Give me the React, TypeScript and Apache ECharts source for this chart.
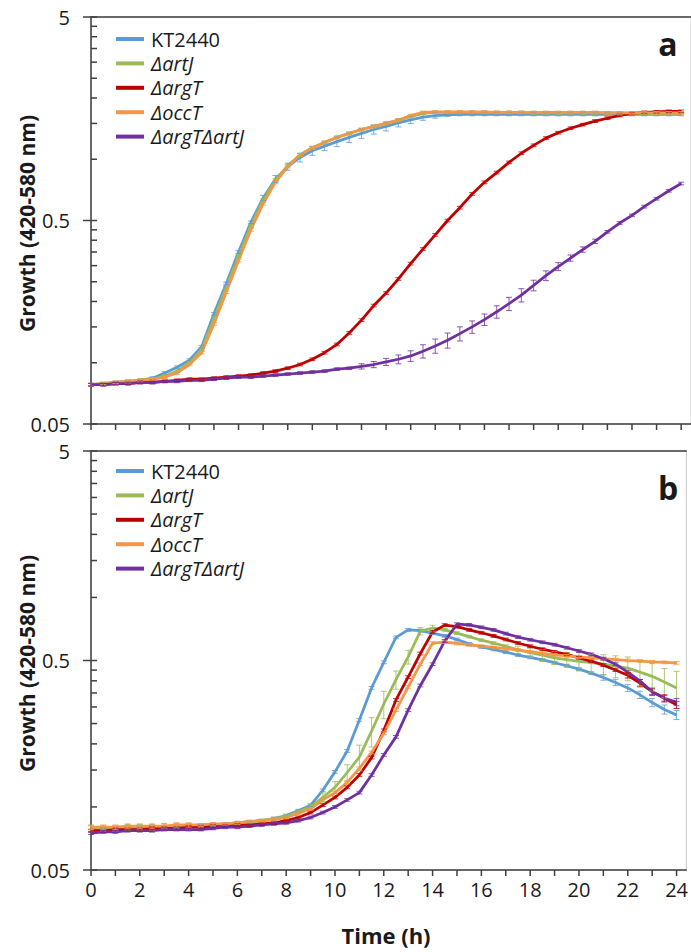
import React, { useEffect, useRef } from 'react';
import * as echarts from 'echarts';

// ---- data ----
const TIME = [0, 0.5, 1, 1.5, 2, 2.5, 3, 3.5, 4, 4.5, 5, 5.5, 6, 6.5, 7, 7.5, 8, 8.5, 9, 9.5, 10, 10.5, 11, 11.5, 12, 12.5, 13, 13.5, 14, 14.5, 15, 15.5, 16, 16.5, 17, 17.5, 18, 18.5, 19, 19.5, 20, 20.5, 21, 21.5, 22, 22.5, 23, 23.5, 24];

const NAMES = ['KT2440', 'ΔartJ', 'ΔargT', 'ΔoccT', 'ΔargTΔartJ'];
const COLORS = ['#5B9BD5', '#9BBB59', '#C00000', '#F79646', '#7030A0'];

// Panel a
const A_KT2440 = [0.078, 0.079, 0.080, 0.081, 0.082, 0.084, 0.089, 0.095, 0.103, 0.120, 0.174, 0.245, 0.350, 0.490, 0.645, 0.800, 0.920, 1.02, 1.10, 1.16, 1.22, 1.28, 1.34, 1.40, 1.45, 1.51, 1.56, 1.61, 1.64, 1.65, 1.66, 1.66, 1.66, 1.66, 1.66, 1.66, 1.66, 1.66, 1.66, 1.66, 1.66, 1.66, 1.66, 1.66, 1.66, 1.66, 1.66, 1.66, 1.66];
const A_ARTJ = [0.078, 0.079, 0.080, 0.081, 0.082, 0.083, 0.086, 0.091, 0.100, 0.116, 0.165, 0.235, 0.335, 0.470, 0.630, 0.790, 0.930, 1.05, 1.14, 1.21, 1.28, 1.34, 1.40, 1.45, 1.50, 1.55, 1.62, 1.68, 1.70, 1.70, 1.70, 1.70, 1.70, 1.70, 1.70, 1.70, 1.69, 1.69, 1.69, 1.69, 1.69, 1.69, 1.69, 1.69, 1.68, 1.68, 1.68, 1.68, 1.68];
const A_ARGT = [0.078, 0.078, 0.079, 0.079, 0.080, 0.080, 0.081, 0.082, 0.083, 0.083, 0.084, 0.085, 0.086, 0.087, 0.089, 0.091, 0.094, 0.098, 0.104, 0.112, 0.123, 0.140, 0.162, 0.191, 0.220, 0.258, 0.307, 0.362, 0.425, 0.500, 0.578, 0.675, 0.770, 0.860, 0.965, 1.07, 1.17, 1.27, 1.35, 1.42, 1.48, 1.54, 1.59, 1.64, 1.68, 1.70, 1.71, 1.72, 1.72];
const A_OCCT = [0.078, 0.079, 0.080, 0.081, 0.082, 0.083, 0.085, 0.089, 0.098, 0.112, 0.155, 0.222, 0.318, 0.450, 0.605, 0.770, 0.920, 1.05, 1.14, 1.21, 1.28, 1.34, 1.40, 1.45, 1.50, 1.56, 1.64, 1.70, 1.71, 1.71, 1.71, 1.71, 1.71, 1.70, 1.70, 1.70, 1.70, 1.70, 1.70, 1.70, 1.70, 1.70, 1.69, 1.69, 1.69, 1.69, 1.69, 1.69, 1.69];
const A_ARGT_ARTJ = [0.078, 0.078, 0.079, 0.079, 0.080, 0.080, 0.081, 0.081, 0.082, 0.082, 0.083, 0.084, 0.085, 0.085, 0.086, 0.087, 0.088, 0.089, 0.090, 0.091, 0.093, 0.094, 0.096, 0.098, 0.101, 0.104, 0.108, 0.114, 0.121, 0.129, 0.139, 0.150, 0.163, 0.178, 0.195, 0.215, 0.240, 0.268, 0.297, 0.327, 0.360, 0.395, 0.440, 0.486, 0.530, 0.585, 0.640, 0.700, 0.760];

// Panel b
const B_KT2440 = [0.077, 0.078, 0.078, 0.078, 0.079, 0.079, 0.079, 0.080, 0.080, 0.081, 0.082, 0.083, 0.084, 0.085, 0.086, 0.088, 0.091, 0.096, 0.102, 0.120, 0.147, 0.185, 0.260, 0.370, 0.490, 0.645, 0.700, 0.695, 0.675, 0.655, 0.630, 0.600, 0.580, 0.565, 0.548, 0.531, 0.518, 0.503, 0.488, 0.472, 0.455, 0.435, 0.415, 0.393, 0.370, 0.343, 0.315, 0.292, 0.275];
const B_ARTJ = [0.079, 0.079, 0.079, 0.080, 0.080, 0.080, 0.081, 0.081, 0.081, 0.082, 0.082, 0.083, 0.084, 0.085, 0.086, 0.088, 0.090, 0.095, 0.100, 0.111, 0.124, 0.146, 0.173, 0.230, 0.310, 0.405, 0.520, 0.690, 0.715, 0.700, 0.675, 0.650, 0.625, 0.605, 0.585, 0.563, 0.545, 0.530, 0.515, 0.505, 0.495, 0.488, 0.480, 0.470, 0.460, 0.440, 0.420, 0.395, 0.370];
const B_ARGT = [0.077, 0.077, 0.078, 0.078, 0.078, 0.079, 0.079, 0.079, 0.080, 0.080, 0.081, 0.081, 0.082, 0.082, 0.083, 0.084, 0.086, 0.089, 0.094, 0.102, 0.111, 0.124, 0.142, 0.172, 0.232, 0.324, 0.417, 0.540, 0.684, 0.738, 0.725, 0.700, 0.678, 0.655, 0.630, 0.606, 0.585, 0.566, 0.550, 0.535, 0.515, 0.497, 0.475, 0.450, 0.425, 0.390, 0.355, 0.330, 0.307];
const B_OCCT = [0.080, 0.080, 0.080, 0.081, 0.081, 0.081, 0.081, 0.082, 0.082, 0.082, 0.083, 0.083, 0.084, 0.085, 0.086, 0.087, 0.089, 0.093, 0.098, 0.108, 0.117, 0.131, 0.153, 0.182, 0.225, 0.290, 0.374, 0.480, 0.605, 0.612, 0.603, 0.594, 0.585, 0.577, 0.569, 0.561, 0.551, 0.541, 0.532, 0.526, 0.520, 0.515, 0.510, 0.505, 0.500, 0.497, 0.493, 0.490, 0.487];
const B_ARGT_ARTJ = [0.075, 0.076, 0.076, 0.077, 0.077, 0.077, 0.078, 0.078, 0.078, 0.078, 0.079, 0.080, 0.080, 0.081, 0.082, 0.083, 0.084, 0.086, 0.089, 0.094, 0.100, 0.108, 0.117, 0.142, 0.177, 0.216, 0.290, 0.380, 0.480, 0.620, 0.745, 0.740, 0.720, 0.700, 0.672, 0.647, 0.628, 0.611, 0.595, 0.575, 0.555, 0.535, 0.510, 0.480, 0.440, 0.400, 0.355, 0.330, 0.317];

// Error bars: [time, relative error in %]; other points use DEFAULT_ERR_PCT
const DEFAULT_ERR_PCT = 1.5;
const ERR_A_KT2440: [number, number][] = [[7, 3], [7.5, 4], [8, 4], [8.5, 5], [9, 5], [9.5, 5], [10, 5.5], [10.5, 5.5], [11, 5.5], [11.5, 5], [12, 5], [12.5, 4.5], [13, 4], [13.5, 3.5], [14, 3]];
const ERR_A_ARGT_ARTJ: [number, number][] = [[11, 3], [11.5, 3.5], [12, 4], [12.5, 5], [13, 6], [13.5, 7.5], [14, 8], [14.5, 8.5], [15, 8], [15.5, 7], [16, 6.5], [16.5, 7], [17, 7.5], [17.5, 7.5], [18, 6], [18.5, 5.5], [19, 4.5], [19.5, 3.5], [20, 3], [20.5, 2.5]];
const ERR_B_KT2440: [number, number][] = [[21, 3], [21.5, 3.5], [22, 4], [22.5, 4], [23, 4.5], [23.5, 5], [24, 5]];
const ERR_B_ARTJ: [number, number][] = [[0, 3], [0.5, 3], [1, 3], [1.5, 3], [2, 3], [2.5, 3], [3, 3], [3.5, 3], [4, 3], [9, 3], [9.5, 5], [10, 6.5], [10.5, 9], [11, 14], [11.5, 16], [12, 15], [12.5, 10], [13, 7.5], [13.5, 4], [14, 3], [17.5, 4], [18, 5], [18.5, 6], [19, 7], [19.5, 8], [20, 10], [20.5, 10], [21, 11], [21.5, 12], [22, 13], [22.5, 14], [23, 15], [23.5, 16], [24, 20]];
const ERR_B_ARGT: [number, number][] = [[22, 3], [22.5, 4], [23, 4], [23.5, 4], [24, 4]];
const ERR_B_OCCT: [number, number][] = [[0, 2.5], [0.5, 2.5], [1, 2.5], [1.5, 2.5], [2, 2.5], [2.5, 2.5], [3, 2.5], [3.5, 2.5], [4, 2.5]];
const ERR_B_ARGT_ARTJ: [number, number][] = [[23, 3], [23.5, 3], [24, 4]];

// Axis ticks / labels
const Y_MAJOR = [0.05, 0.5, 5];
const Y_LABELS = ['0.05', '0.5', '5'];
const Y_MINOR = [0.1, 0.15, 0.2, 0.25, 0.3, 0.35, 0.4, 0.45, 1, 1.5, 2, 2.5, 3, 3.5, 4, 4.5];
const X_TICKS = [0, 1, 2, 3, 4, 5, 6, 7, 8, 9, 10, 11, 12, 13, 14, 15, 16, 17, 18, 19, 20, 21, 22, 23, 24];

const PANELS = [
  { letter: 'a', series: [A_KT2440, A_ARTJ, A_ARGT, A_OCCT, A_ARGT_ARTJ], errs: [ERR_A_KT2440, [], [], [], ERR_A_ARGT_ARTJ] as [number, number][][] },
  { letter: 'b', series: [B_KT2440, B_ARTJ, B_ARGT, B_OCCT, B_ARGT_ARTJ], errs: [ERR_B_KT2440, ERR_B_ARTJ, ERR_B_ARGT, ERR_B_OCCT, ERR_B_ARGT_ARTJ] },
];

const FONT = "'Open Sans', 'DejaVu Sans', sans-serif";
const AXIS_COLOR = '#404040';
const TEXT_COLOR = '#1a1a1a';

const GRIDS = [
  { left: 91, top: 17, width: 600, height: 407 },
  { left: 91, top: 451, width: 600, height: 419 },
];
const LEGEND_TOPS = [24, 456];
const LETTER_Y = [43, 487];

export default function App() {
  const ref = useRef<HTMLDivElement>(null);

  useEffect(() => {
    if (!ref.current) return;
    const chart = echarts.init(ref.current, undefined, { renderer: 'svg' });

    const series: any[] = [];
    PANELS.forEach((panel, pi) => {
      panel.series.forEach((vals, si) => {
        series.push({
          type: 'line',
          name: NAMES[si],
          xAxisIndex: pi,
          yAxisIndex: pi,
          data: TIME.map((t, i) => [t, vals[i]]),
          showSymbol: false,
          symbol: 'none',
          color: COLORS[si],
          lineStyle: { width: 2.75, color: COLORS[si] },
          silent: true,
          z: 2,
        });
      });
      panel.series.forEach((vals, si) => {
        const errMap = new Map<number, number>(panel.errs[si]);
        const color = COLORS[si];
        series.push({
          type: 'custom',
          name: `err-${panel.letter}-${si}`,
          xAxisIndex: pi,
          yAxisIndex: pi,
          silent: true,
          clip: false,
          z: 3,
          encode: { x: 0, y: [1, 2] },
          data: TIME.map((t, i) => {
            const p = (errMap.has(t) ? (errMap.get(t) as number) : DEFAULT_ERR_PCT) / 100;
            return [t, vals[i] * (1 - p), vals[i] * (1 + p)];
          }),
          renderItem: (params: any, api: any) => {
            const t = api.value(0);
            const p1 = api.coord([t, api.value(1)]);
            const p2 = api.coord([t, api.value(2)]);
            const w = 3;
            const st = { stroke: color, lineWidth: 1, opacity: 0.8 };
            return {
              type: 'group',
              children: [
                { type: 'line', shape: { x1: p1[0], y1: p1[1], x2: p2[0], y2: p2[1] }, style: st },
                { type: 'line', shape: { x1: p1[0] - w, y1: p1[1], x2: p1[0] + w, y2: p1[1] }, style: st },
                { type: 'line', shape: { x1: p2[0] - w, y1: p2[1], x2: p2[0] + w, y2: p2[1] }, style: st },
              ],
            };
          },
        });
      });

      // Y major ticks (crossing) + labels
      series.push({
        type: 'custom',
        name: `ymajor-${pi}`,
        xAxisIndex: pi,
        yAxisIndex: pi,
        silent: true,
        clip: false,
        z: 5,
        data: Y_MAJOR.map((v, i) => [0, v, i]),
        renderItem: (params: any, api: any) => {
          const p = api.coord([0, api.value(1)]);
          const idx = api.value(2);
          return {
            type: 'group',
            children: [
              { type: 'line', shape: { x1: p[0] - 8, y1: p[1], x2: p[0] + 6, y2: p[1] }, style: { stroke: AXIS_COLOR, lineWidth: 1.5 } },
              {
                type: 'text',
                x: p[0] - 21,
                y: p[1],
                style: { text: Y_LABELS[idx], textAlign: 'right', textVerticalAlign: 'middle', fontSize: 20, fontFamily: FONT, fill: TEXT_COLOR },
              },
            ],
          };
        },
      });
      // Y minor ticks (inside)
      series.push({
        type: 'custom',
        name: `yminor-${pi}`,
        xAxisIndex: pi,
        yAxisIndex: pi,
        silent: true,
        clip: false,
        z: 5,
        data: Y_MINOR.map((v) => [0, v]),
        renderItem: (params: any, api: any) => {
          const p = api.coord([0, api.value(1)]);
          return { type: 'line', shape: { x1: p[0], y1: p[1], x2: p[0] + 6, y2: p[1] }, style: { stroke: AXIS_COLOR, lineWidth: 1.5 } };
        },
      });
      // X ticks (outside)
      series.push({
        type: 'custom',
        name: `xticks-${pi}`,
        xAxisIndex: pi,
        yAxisIndex: pi,
        silent: true,
        clip: false,
        z: 5,
        data: X_TICKS.map((t) => [t, 0.05]),
        renderItem: (params: any, api: any) => {
          const p = api.coord([api.value(0), 0.05]);
          return { type: 'line', shape: { x1: p[0], y1: p[1], x2: p[0], y2: p[1] + 6 }, style: { stroke: AXIS_COLOR, lineWidth: 1.5 } };
        },
      });
    });

    const legendData = NAMES.map((n, i) => ({
      name: n,
      textStyle: { fontStyle: i === 0 ? 'normal' : 'italic' },
    }));

    const option: any = {
      animation: false,
      backgroundColor: '#ffffff',
      grid: GRIDS.map((g) => ({ ...g, show: true, borderColor: '#c8c8c8', borderWidth: 1, backgroundColor: 'transparent' })),
      xAxis: [
        ...GRIDS.map((g, i) => ({
          type: 'value',
          gridIndex: i,
          min: 0,
          max: 24.4,
          interval: 2,
          axisLine: { show: true, lineStyle: { color: AXIS_COLOR, width: 1.5 } },
          axisTick: { show: false },
          splitLine: { show: false },
          axisLabel: {
            show: i === 1,
            margin: 9,
            fontSize: 20,
            fontFamily: FONT,
            color: TEXT_COLOR,
            formatter: (v: number) => (v % 2 === 0 ? String(v) : ''),
          },
        })),
        ...GRIDS.map((g, i) => ({
          type: 'value',
          gridIndex: i,
          position: 'top',
          min: 0,
          max: 24.4,
          axisLine: { show: true, lineStyle: { color: AXIS_COLOR, width: 1.5 } },
          axisTick: { show: false },
          axisLabel: { show: false },
          splitLine: { show: false },
        })),
      ],
      yAxis: GRIDS.map((g, i) => ({
        type: 'log',
        logBase: 10,
        gridIndex: i,
        min: 0.05,
        max: 5,
        axisLine: { show: true, lineStyle: { color: AXIS_COLOR, width: 1.5 } },
        axisTick: { show: false },
        axisLabel: { show: false },
        splitLine: { show: false },
        minorTick: { show: false },
      })),
      legend: LEGEND_TOPS.map((top) => ({
        left: 111,
        top,
        orient: 'vertical',
        icon: 'rect',
        itemWidth: 28,
        itemHeight: 4,
        itemGap: 4.4,
        selectedMode: false,
        textStyle: { fontSize: 20, fontFamily: FONT, color: TEXT_COLOR, lineHeight: 20, padding: [0, 0, 0, 2] },
        data: legendData,
      })),
      graphic: [
        ...GRIDS.map((g) => ({
          type: 'text',
          x: 27,
          y: g.top + g.height / 2 + 3,
          rotation: Math.PI / 2,
          style: {
            text: 'Growth (420-580 nm)',
            textAlign: 'center',
            textVerticalAlign: 'middle',
            fontSize: 21,
            fontWeight: 'bold',
            fontFamily: FONT,
            fill: TEXT_COLOR,
          },
        })),
        ...PANELS.map((p, i) => ({
          type: 'text',
          x: 668,
          y: LETTER_Y[i],
          style: {
            text: p.letter,
            textAlign: 'center',
            textVerticalAlign: 'middle',
            fontSize: 32,
            fontWeight: 'bold',
            fontFamily: FONT,
            fill: TEXT_COLOR,
          },
        })),
        {
          type: 'text',
          x: 386,
          y: 935,
          style: {
            text: 'Time (h)',
            textAlign: 'center',
            textVerticalAlign: 'middle',
            fontSize: 22,
            fontWeight: 'bold',
            fontFamily: FONT,
            fill: TEXT_COLOR,
          },
        },
      ],
      series,
    };

    chart.setOption(option);
    return () => chart.dispose();
  }, []);

  return (
    <div
      ref={ref}
      style={{ position: 'fixed', left: 0, top: 0, width: 691, height: 952, background: '#ffffff' }}
    />
  );
}
